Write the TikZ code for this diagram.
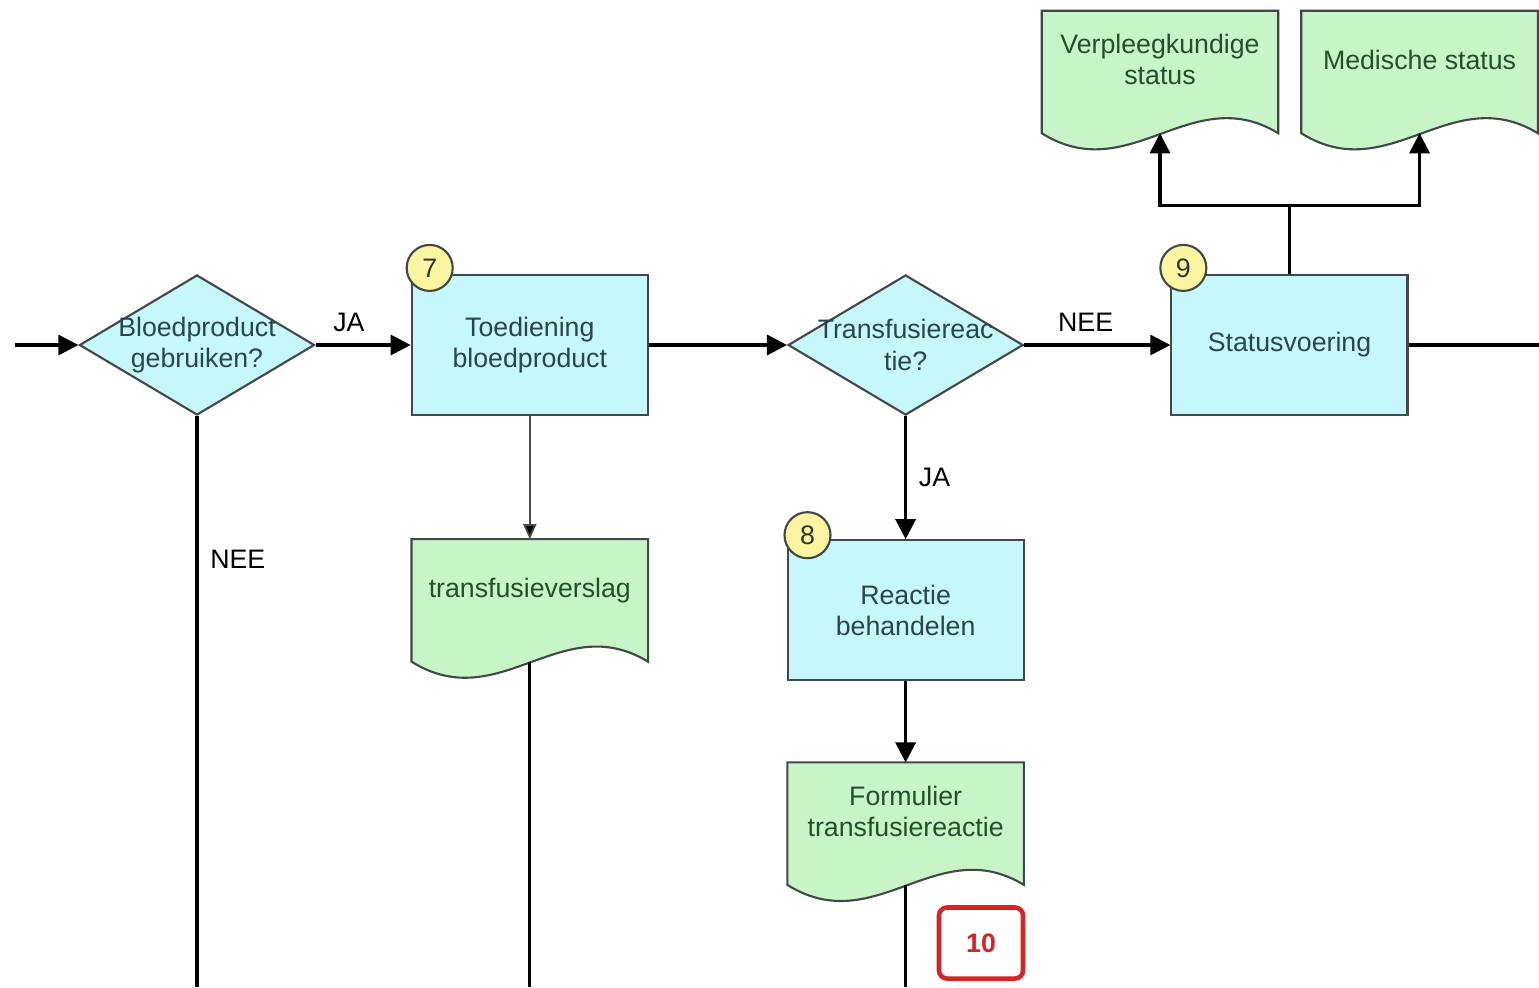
\documentclass[tikz,border=0pt]{standalone}
\usepackage{fontspec}
\setmainfont{Liberation Sans}
\usetikzlibrary{positioning,shapes.geometric,arrows.meta,backgrounds,calc}

\definecolor{procfill}{RGB}{198,247,250}
\definecolor{docfill}{RGB}{200,245,200}
\definecolor{badgefill}{RGB}{250,245,160}
\definecolor{edgegray}{RGB}{65,72,72}
\definecolor{proctext}{RGB}{40,70,75}
\definecolor{doctext}{RGB}{35,80,40}
\definecolor{tagred}{RGB}{215,35,35}

\begin{document}
\begin{tikzpicture}[%
	x=0.01cm, y=-0.01cm,
	font=\fontsize{7.6}{8.9}\selectfont,
	proc node/.style={
		rectangle,
		fill=procfill,
		draw=edgegray,
		semithick,
		minimum width=2.36cm,
		minimum height=1.4cm,
		inner sep=0pt,
		text=proctext,
		align=center
	},
	decision/.style={
		diamond,
		fill=procfill,
		draw=edgegray,
		semithick,
		minimum width=2.35cm,
		minimum height=1.4cm,
		inner sep=0pt
	},
	dec text/.style={text=proctext, align=center},
	doc node/.style={
		rectangle,
		minimum width=2.35cm,
		minimum height=1.21cm,
		inner sep=0pt,
		text=doctext,
		%text depth lifts the text a bit, as in the original
		text depth=0.25cm,
		align=center
	},
	badge/.style={circle, fill=badgefill, draw=edgegray, semithick, minimum size=0.46cm, inner sep=0pt, text=black!80},
	flow/.style={draw, line width=0.9pt, -{Triangle[length=0.2cm,width=0.2cm]}},
	thin flow/.style={draw, draw=black!70, line width=0.5pt, -{Triangle[length=0.15cm,width=0.13cm]}},
	plain/.style={draw, line width=0.9pt},
]
	\useasboundingbox (0,0) rectangle (1539,987);

	\node[decision, label={[dec text]center:{Bloedproduct\\gebruiken?}}] (d1) at (197,345) {};
	\node[proc node] (7) [right = 0.95cm of d1] {Toediening\\bloedproduct};
	\node[decision, label={[dec text]center:{Transfusiereac\\tie?}}] (d2) [right = 1.38cm of 7] {};
	\node[proc node] (9) [right = 1.46cm of d2] {Statusvoering};
	\node[proc node] (8) [below = 1.23cm of d2] {Reactie\\behandelen};
	\node[doc node] (verslag) [below = 1.23cm of 7] {transfusieverslag};
	\node[doc node] (formulier) [below = 0.81cm of 8] {Formulier\\transfusiereactie};
	\node[doc node] (verpleeg) at (1160,72) {Verpleegkundige\\status};
	\node[doc node] (medisch) [right = 0.23cm of verpleeg] {Medische status};

	\node[badge] (b7) at ([shift={(0.19cm,0.06cm)}]7.north west) {7};
	\node[badge] (b8) at ([shift={(0.21cm,0.04cm)}]8.north west) {8};
	\node[badge] (b9) at ([shift={(0.13cm,0.06cm)}]9.north west) {9};

	\node[draw=tagred, line width=1.3pt, rounded corners=0.08cm, minimum width=0.84cm, minimum height=0.71cm,
		text=tagred, font=\fontsize{7.6}{8.9}\selectfont\bfseries] (tag) at (981,943) {10};

	% document shapes with the wavy bottom
	\begin{scope}[on background layer]
		\foreach \d in {verslag,formulier,verpleeg,medisch}
			\draw[draw=edgegray, semithick, fill=docfill] (\d.north west) -- (\d.north east) -- (\d.south east)
				.. controls ($(\d.south east)+(-87,-53)$) and ($(\d.south west)+(88,55)$) .. (\d.south west) -- cycle;
	\end{scope}

	\coordinate (in) at (15,345);
	\coordinate (out) at (1539,345);
	\coordinate (bottom) at (0,987);
	\coordinate (split) at ([yshift=0.68cm]9.north);

	\draw[flow] (in) -- (d1);
	\path[flow]
	(d1) edge node [above,pos=0.35] {JA} (7)
	(7) edge (d2)
	(d2) edge node [above,pos=0.42] {NEE} (9)
	(d2) edge node [right] {JA} (8)
	(8) edge (formulier);
	\path[thin flow] (7) edge (verslag);
	\path[plain]
	(9) edge (out)
	(d1.south) edge node [pos=0.25,right] {NEE} (d1.south |- bottom)
	(verslag.south) edge (verslag.south |- bottom)
	(formulier.south) edge (formulier.south |- bottom)
	(9.north) edge (split);
	\draw[flow] (split) -| (verpleeg.south);
	\draw[flow] (split) -| (medisch.south);
\end{tikzpicture}
\end{document}
